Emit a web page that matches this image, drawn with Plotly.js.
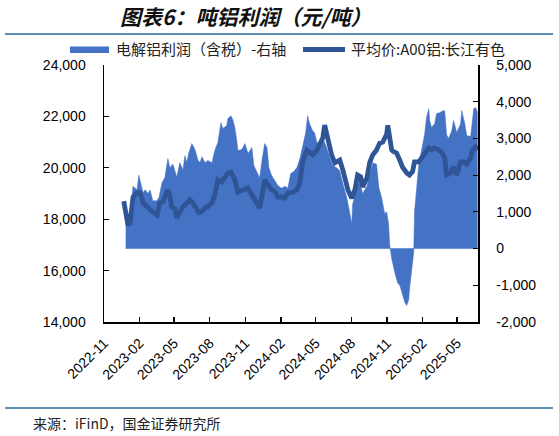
<!DOCTYPE html>
<html>
<head>
<meta charset="utf-8">
<script src="https://cdn.plot.ly/plotly-3.0.1.min.js"></script>
<style>
html,body{margin:0;padding:0;background:#fff;}
#chart{width:559px;height:436px;}
</style>
</head>
<body>
<div id="chart"></div>
<script>
// ---- Data ----
const profitName = "电解铝利润（含税）-右轴";
const priceName = "平均价:A00铝:长江有色";

const profitDates = [
"2022-12-27","2023-01-02","2023-01-07","2023-01-15","2023-01-20","2023-01-25","2023-01-30","2023-02-04","2023-02-10","2023-02-15",
"2023-02-23","2023-02-28","2023-03-07","2023-03-18","2023-03-23","2023-03-31","2023-04-07","2023-04-15","2023-04-20","2023-04-28",
"2023-05-03","2023-05-08","2023-05-16","2023-05-24","2023-05-29","2023-06-03","2023-06-08","2023-06-16","2023-06-24","2023-07-02",
"2023-07-07","2023-07-12","2023-07-20","2023-07-27","2023-08-07","2023-08-14","2023-08-22","2023-08-30","2023-09-04","2023-09-09",
"2023-09-14","2023-09-17","2023-09-25","2023-09-30","2023-10-05","2023-10-10","2023-10-13","2023-10-23","2023-10-31","2023-11-08",
"2023-11-18","2023-11-23","2023-12-01","2023-12-08","2023-12-14","2023-12-21","2023-12-27","2024-01-01","2024-01-08","2024-01-16",
"2024-01-24","2024-02-03","2024-02-11","2024-02-19","2024-02-26","2024-03-05","2024-03-13","2024-03-21","2024-03-28","2024-04-05",
"2024-04-10","2024-04-15","2024-04-23","2024-04-28","2024-05-04","2024-05-11","2024-05-19","2024-05-24","2024-05-29","2024-06-06",
"2024-06-14","2024-06-24","2024-07-02","2024-07-10","2024-07-20","2024-07-25","2024-08-02","2024-08-04","2024-08-15","2024-08-22",
"2024-08-30","2024-09-10","2024-09-17","2024-09-25","2024-10-05","2024-10-11","2024-10-18","2024-10-26","2024-10-31","2024-11-05",
"2024-11-08","2024-11-13","2024-11-21","2024-11-29","2024-12-04","2024-12-11","2024-12-17","2024-12-22","2024-12-27","2024-12-29",
"2025-01-04","2025-01-09","2025-01-11","2025-01-17","2025-01-22","2025-01-29","2025-02-06","2025-02-11","2025-02-17","2025-02-19",
"2025-02-24","2025-03-04","2025-03-09","2025-03-17","2025-03-27","2025-03-30","2025-04-04","2025-04-09","2025-04-17","2025-04-22",
"2025-04-30","2025-05-10","2025-05-13","2025-05-20","2025-05-26","2025-06-05","2025-06-13","2025-06-18","2025-06-23"];
const profitValues = [
1300,700,800,1700,1650,1600,2000,1800,1520,1600,
1500,1600,1300,1300,1400,1800,1930,2450,2200,2300,
2120,1950,2340,2150,2530,2350,2610,2860,2700,2400,
2350,2500,2340,2400,2340,2670,2890,3430,3270,3300,
3350,3540,3620,3500,3300,2940,2670,2700,2860,2590,
2750,2260,2070,1930,2400,2860,2750,2200,1990,1850,
1720,1640,1700,1650,2040,2100,2200,2450,2750,3160,
3620,3400,3210,3150,2890,2850,3020,2900,2750,2480,
2260,2200,2120,1770,1390,1120,680,1200,1660,1850,
1500,1700,2040,2340,2300,1660,1390,950,1000,680,
100,-270,-650,-950,-1000,-1250,-1470,-1550,-1400,-1120,
-460,-100,1000,1830,2290,2670,3100,3570,3810,3500,
3300,3400,3680,3700,3760,3750,3100,3000,3200,3490,
3160,3400,3760,3450,3080,3050,3810,3840,3700];

const priceDates = [
"2022-12-22","2022-12-27","2023-01-02","2023-01-07","2023-01-12","2023-01-15","2023-01-25","2023-02-02","2023-02-07","2023-02-10",
"2023-02-20","2023-02-28","2023-03-07","2023-03-18","2023-03-25","2023-04-02","2023-04-13","2023-04-15","2023-04-20","2023-04-25",
"2023-05-03","2023-05-08","2023-05-16","2023-05-24","2023-06-03","2023-06-11","2023-06-19","2023-06-29","2023-07-04","2023-07-12",
"2023-07-20","2023-07-27","2023-08-07","2023-08-14","2023-08-22","2023-09-01","2023-09-09","2023-09-17","2023-09-25","2023-09-30",
"2023-10-05","2023-10-13","2023-10-23","2023-10-31","2023-11-08","2023-11-18","2023-11-26","2023-12-03","2023-12-08","2023-12-14",
"2023-12-21","2023-12-29","2024-01-08","2024-01-16","2024-01-24","2024-02-03","2024-02-11","2024-02-19","2024-03-03","2024-03-13",
"2024-03-21","2024-03-28","2024-04-08","2024-04-15","2024-04-23","2024-05-04","2024-05-11","2024-05-19","2024-05-24","2024-05-29",
"2024-06-01","2024-06-11","2024-06-19","2024-06-27","2024-07-02","2024-07-10","2024-07-15","2024-07-23","2024-08-02","2024-08-10",
"2024-08-17","2024-08-25","2024-08-30","2024-09-10","2024-09-17","2024-09-25","2024-10-05","2024-10-13","2024-10-21","2024-10-31",
"2024-11-03","2024-11-08","2024-11-13","2024-11-16","2024-11-26","2024-12-04","2024-12-11","2024-12-22","2024-12-29","2025-01-06",
"2025-01-11","2025-01-22","2025-01-29","2025-02-06","2025-02-17","2025-02-24","2025-03-04","2025-03-14","2025-03-22","2025-03-30",
"2025-04-04","2025-04-14","2025-04-22","2025-04-30","2025-05-10","2025-05-18","2025-05-26","2025-06-05","2025-06-10","2025-06-18",
"2025-06-23"];
const priceValues = [
18700,18360,17770,17850,18750,18860,19020,19020,18820,18630,
18480,18360,18280,18160,18630,18680,19020,19140,18900,18480,
18400,18050,18280,18480,18630,18750,18630,18360,18250,18300,
18440,18480,18630,18940,19530,19450,19600,19800,19840,19700,
19530,19060,19120,19210,19210,18940,18750,18550,18440,18900,
19530,19350,19140,19080,18860,18860,18820,19020,19050,19140,
19410,20230,20690,20600,20500,20690,20960,21160,21660,21350,
21080,20500,20190,20230,20300,19910,19530,19140,18820,19140,
19720,19650,19250,19600,20190,20500,20690,20960,21000,21300,
21650,21000,20700,20650,20570,20300,20030,19800,19720,19850,
20230,20230,20380,20610,20770,20700,20770,20700,20600,20380,
19720,19800,20030,19720,20230,20230,20150,20380,20690,20810,
20690];

const leftTickVals = [14000,16000,18000,20000,22000,24000];
const leftTickText = ["14,000","16,000","18,000","20,000","22,000","24,000"];
const rightTickVals = [-2000,-1000,0,1000,2000,3000,4000,5000];
const rightTickText = ["-2,000","-1,000","0","1,000","2,000","3,000","4,000","5,000"];

const titleText = "图表6：吨铝利润（元/吨）";
const sourceText = "来源：iFinD，国金证券研究所";

// ---- Chart ----
const areaColor = "#4472C4";
const lineColor = "#2F5597";
const tickFont = {family: "Liberation Sans, Arial, sans-serif", size: 14, color: "#000"};

// Profit area uses the base (right-side) axis; the price line uses the overlaying
// left-side axis so that it is drawn on top of the area.
const traces = [
  {
    x: profitDates, y: profitValues, yaxis: "y", type: "scatter", mode: "lines",
    fill: "tozeroy", fillcolor: areaColor, line: {color: areaColor, width: 0.5},
    name: profitName, showlegend: false, hoverinfo: "skip"
  },
  {
    x: priceDates, y: priceValues, yaxis: "y2", type: "scatter", mode: "lines",
    line: {color: lineColor, width: 4.8}, name: priceName, showlegend: false
  }
];

const W = 559, H = 436, mL = 104, mR = 81, mT = 65, mB = 114;
const pw = W - mL - mR, ph = H - mT - mB;
const px = v => (v - mL) / pw;
const py = v => (H - mB - v) / ph;

const axisCommon = {
  ticks: "inside", ticklen: 5, tickwidth: 1.2, tickcolor: "#000",
  showline: true, linecolor: "#000", linewidth: 1.5,
  showgrid: false, zeroline: false, tickfont: tickFont
};

const layout = {
  width: W, height: H,
  margin: {l: mL, r: mR, t: mT, b: mB, pad: 0},
  paper_bgcolor: "#fff", plot_bgcolor: "#fff",
  showlegend: false,
  xaxis: Object.assign({}, axisCommon, {
    type: "date", range: ["2022-11-01", "2025-06-24"],
    tick0: "2022-11-01", dtick: "M3", tickformat: "%Y-%m", tickangle: -45,
    ticklabelstandoff: 6
  }),
  yaxis: Object.assign({}, axisCommon, {
    range: [-2000, 5000], tickvals: rightTickVals, ticktext: rightTickText,
    side: "right", ticklabelstandoff: 14
  }),
  yaxis2: Object.assign({}, axisCommon, {
    range: [14000, 24000], tickvals: leftTickVals, ticktext: leftTickText,
    overlaying: "y", side: "left", ticklabelstandoff: 14
  }),
  shapes: [
    {type: "line", xref: "paper", yref: "paper", x0: px(5), x1: px(553), y0: py(34), y1: py(34),
     line: {color: "#2B6A97", width: 1.5}},
    {type: "line", xref: "paper", yref: "paper", x0: px(5), x1: px(553), y0: py(408), y1: py(408),
     line: {color: "#2B6A97", width: 1.5}},
    {type: "rect", xref: "paper", yref: "paper", x0: px(70), x1: px(109), y0: py(53), y1: py(46.5),
     fillcolor: areaColor, line: {width: 0}},
    {type: "line", xref: "paper", yref: "paper", x0: px(303), x1: px(345), y0: py(49.5), y1: py(49.5),
     line: {color: lineColor, width: 5}},
    {type: "line", xref: "x", yref: "y", layer: "below", x0: profitDates[0], x1: profitDates[profitDates.length - 1], y0: 0, y1: 0,
     line: {color: "#9DB4E2", width: 1}}
  ],
  annotations: [
    {text: titleText, xref: "paper", yref: "paper", x: px(118), y: py(16), xanchor: "left", yanchor: "middle",
     showarrow: false, font: {family: "Noto Sans CJK SC", size: 21, weight: "bold", style: "italic", color: "#111"}},
    {text: profitName, xref: "paper", yref: "paper", x: px(114), y: py(48), xanchor: "left", yanchor: "middle",
     showarrow: false, font: {family: "Noto Sans CJK SC", size: 15, color: "#222"}},
    {text: priceName, xref: "paper", yref: "paper", x: px(349), y: py(48), xanchor: "left", yanchor: "middle",
     showarrow: false, font: {family: "Noto Sans CJK SC", size: 15, color: "#222"}},
    {text: sourceText, xref: "paper", yref: "paper", x: px(31), y: py(423), xanchor: "left", yanchor: "middle",
     showarrow: false, font: {family: "Noto Sans CJK SC", size: 14, color: "#222"}}
  ]
};

Plotly.newPlot("chart", traces, layout, {displayModeBar: false, staticPlot: true});
</script>
</body>
</html>
